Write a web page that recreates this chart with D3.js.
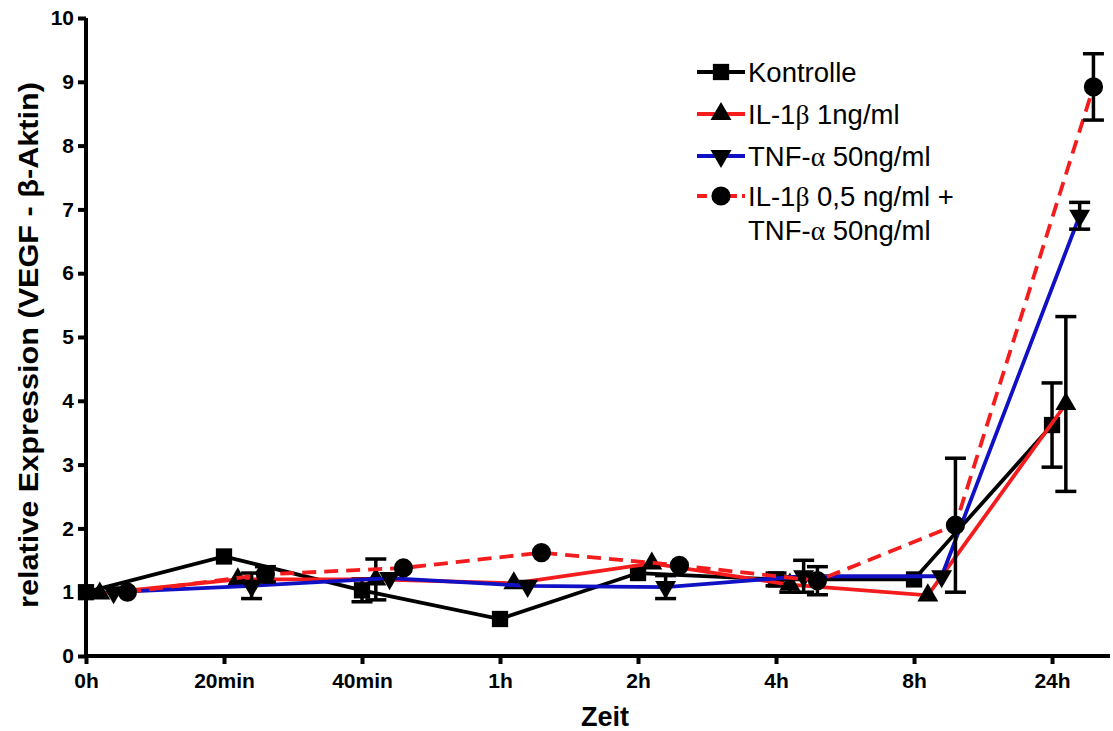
<!DOCTYPE html>
<html>
<head>
<meta charset="utf-8">
<script src="https://cdn.jsdelivr.net/npm/d3@7"></script>
<style>
  html, body { margin: 0; padding: 0; background: #fff; }
  svg { display: block; }
</style>
</head>
<body>
<svg id="chart" width="1113" height="731"></svg>
<script>
// ---- data ----
const categories = ["0h", "20min", "40min", "1h", "2h", "4h", "8h", "24h"];
const yTicks = [0, 1, 2, 3, 4, 5, 6, 7, 8, 9, 10];

const kontrolle    = [1.00, 1.56, 1.03, 0.58, 1.30, 1.20, 1.20, 3.62];
const kontrolleErr = [0, 0, 0.18, 0, 0, 0.10, 0, 0.66];
const il1b         = [0.98, 1.20, 1.20, 1.14, 1.45, 1.12, 0.95, 3.95];
const il1bErr      = [0, 0, 0.32, 0, 0, 0.12, 0, 1.37];
const tnf          = [1.00, 1.10, 1.22, 1.10, 1.08, 1.25, 1.25, 6.90];
const tnfErr       = [0, 0.20, 0, 0, 0.18, 0.25, 0, 0.21];
const combo        = [1.00, 1.28, 1.38, 1.62, 1.42, 1.18, 2.05, 8.92];
const comboErr     = [0, 0.12, 0, 0, 0, 0.22, 1.05, 0.52];

const seriesNames = ["Kontrolle", "IL-1β 1ng/ml", "TNF-α 50ng/ml", "IL-1β 0,5 ng/ml + TNF-α 50ng/ml"];

(function () {
// ---- styling ----
const RED = "#f41c1c", BLUE = "#1010c4", BLACK = "#000";
const series = [
  { name: seriesNames[0], values: kontrolle, err: kontrolleErr, color: BLACK, dash: null, symbol: d3.symbolSquare, size: 265, rot: 0, shift: 0.0 },
  { name: seriesNames[1], values: il1b, err: il1bErr, color: RED, dash: null, symbol: d3.symbolTriangle, size: 190, rot: 0, shift: 0.1 },
  { name: seriesNames[2], values: tnf, err: tnfErr, color: BLUE, dash: null, symbol: d3.symbolTriangle, size: 190, rot: 180, shift: 0.2 },
  { name: seriesNames[3], values: combo, err: comboErr, color: RED, dash: "14,8", symbol: d3.symbolCircle, size: 290, rot: 0, shift: 0.3 }
];

const svg = d3.select("#chart");
const mLeft = 86, mRight = 1110, mTop = 18, mBottom = 656;
const nCat = categories.length;

const x = d3.scaleLinear().domain([0, (nCat - 1) * 1.06]).range([mLeft, mRight]);
const y = d3.scaleLinear().domain([0, 10]).range([mBottom, mTop]);

const FONT = "'Liberation Sans', Arial, Helvetica, sans-serif";
const LW = 3.8;

// ---- series ----
series.forEach(s => {
  const pts = s.values.map((v, i) => ({ xi: i + s.shift, v, e: s.err[i] }));
  const g = svg.append("g");
  g.append("path")
    .datum(pts)
    .attr("fill", "none")
    .attr("stroke", s.color)
    .attr("stroke-width", LW)
    .attr("stroke-dasharray", s.dash)
    .attr("d", d3.line().x(d => x(d.xi)).y(d => y(d.v)));
  const eb = g.selectAll("g.err").data(pts.filter(d => d.e > 0)).enter().append("g")
    .attr("stroke", BLACK).attr("stroke-width", 3.5);
  eb.append("line")
    .attr("x1", d => x(d.xi)).attr("x2", d => x(d.xi))
    .attr("y1", d => y(d.v - d.e)).attr("y2", d => y(d.v + d.e));
  eb.append("line")
    .attr("x1", d => x(d.xi) - 10.5).attr("x2", d => x(d.xi) + 10.5)
    .attr("y1", d => y(d.v + d.e)).attr("y2", d => y(d.v + d.e));
  eb.append("line")
    .attr("x1", d => x(d.xi) - 10.5).attr("x2", d => x(d.xi) + 10.5)
    .attr("y1", d => y(d.v - d.e)).attr("y2", d => y(d.v - d.e));
  g.selectAll("path.m").data(pts).enter().append("path")
    .attr("class", "m")
    .attr("d", d3.symbol().type(s.symbol).size(s.size))
    .attr("fill", BLACK)
    .attr("transform", d => `translate(${x(d.xi)},${y(d.v)}) rotate(${s.rot})`);
});

// ---- axes ----
const yAxis = svg.append("g")
  .attr("transform", `translate(${mLeft},0)`)
  .call(d3.axisLeft(y).tickValues(yTicks).tickFormat(d3.format("d")).tickSize(8).tickPadding(4));
const xAxis = svg.append("g")
  .attr("transform", `translate(0,${mBottom})`)
  .call(d3.axisBottom(x).tickValues(d3.range(nCat)).tickFormat(i => categories[i]).tickSize(8).tickPadding(9));

[yAxis, xAxis].forEach(a => {
  a.select(".domain").attr("stroke", BLACK).attr("stroke-width", 4);
  a.selectAll(".tick line").attr("stroke", BLACK).attr("stroke-width", 4);
  a.selectAll(".tick text").attr("fill", BLACK)
    .style("font-family", FONT).style("font-size", "21px").style("font-weight", "bold");
});
yAxis.select(".domain").attr("d", `M0,${mBottom}V${mTop}`);
xAxis.select(".domain").attr("d", `M${mLeft},0H${mRight}`);

svg.append("text")
  .attr("x", (mLeft + mRight) / 2 + 7).attr("y", 726)
  .attr("text-anchor", "middle")
  .style("font-family", FONT).style("font-size", "27px").style("font-weight", "bold")
  .text("Zeit");

svg.append("text")
  .attr("transform", `translate(38,345) rotate(-90)`)
  .attr("text-anchor", "middle")
  .attr("textLength", 526)
  .attr("lengthAdjust", "spacingAndGlyphs")
  .style("font-family", FONT).style("font-size", "27px").style("font-weight", "bold")
  .text("relative Expression (VEGF - β-Aktin)");

// ---- legend ----
const legend = svg.append("g");
const rowsY = [72, 114, 156, 196];
const greek = (sel, str) => {
  str.split(/([αβ])/).forEach(part => {
    if (!part) return;
    const t = sel.append("tspan").text(part);
    if (part === "α" || part === "β") t.style("font-family", "'Liberation Serif', 'DejaVu Serif', serif");
  });
};
series.forEach((s, i) => {
  const ly = rowsY[i];
  legend.append("line")
    .attr("x1", 697).attr("x2", 745).attr("y1", ly).attr("y2", ly)
    .attr("stroke", s.color).attr("stroke-width", LW)
    .attr("stroke-dasharray", s.dash ? "10,5" : null);
  legend.append("path")
    .attr("d", d3.symbol().type(s.symbol).size(s.size))
    .attr("fill", BLACK)
    .attr("transform", `translate(721,${ly}) rotate(${s.rot})`);
  const lines = i === 3 ? ["IL-1β 0,5 ng/ml +", "TNF-α 50ng/ml"] : [s.name];
  lines.forEach((ln, j) => {
    const t = legend.append("text")
      .attr("x", 748).attr("y", ly + 10 + j * 34)
      .style("font-family", FONT).style("font-size", "27.5px").attr("fill", BLACK);
    greek(t, ln);
  });
});
})();
</script>
</body>
</html>
